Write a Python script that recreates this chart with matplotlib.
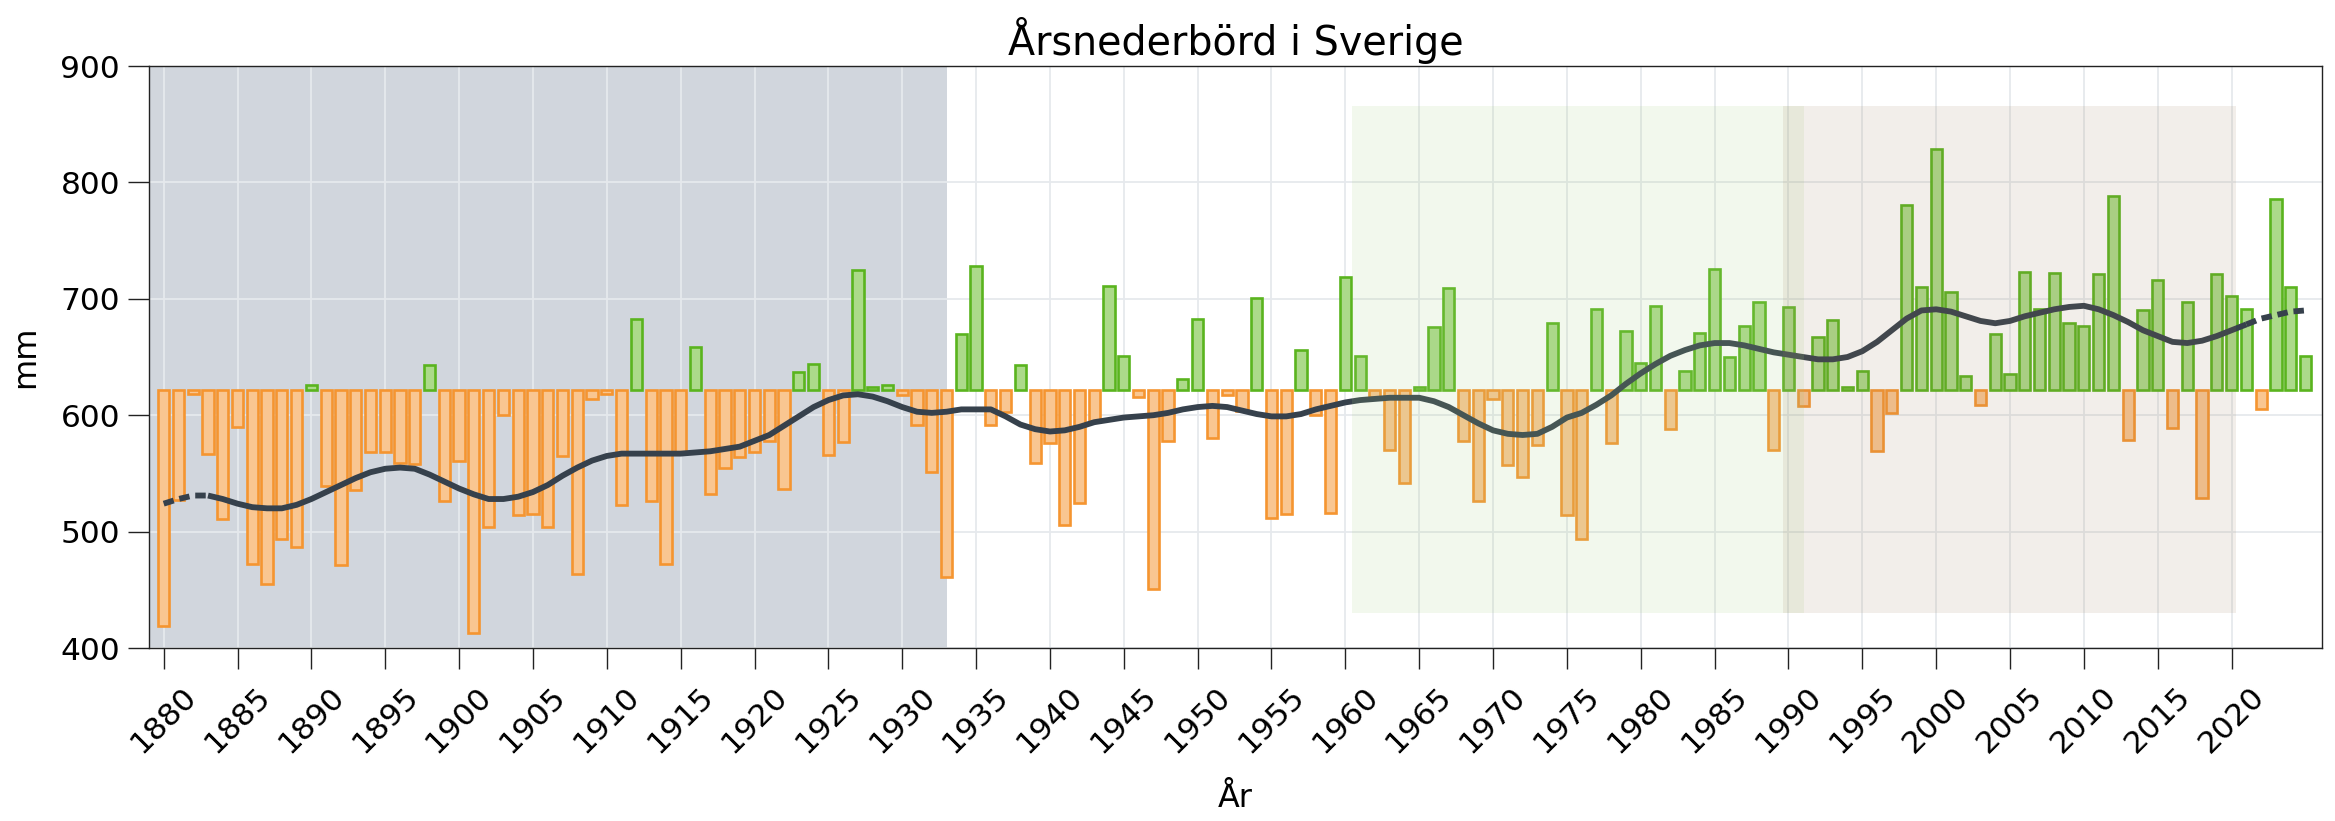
import numpy as np
import matplotlib
matplotlib.use("Agg")
import matplotlib.pyplot as plt

# annual precipitation, mm (1880-2025)
years = np.arange(1880, 2026)
precip = [
    419, 527, 618, 567, 511, 590, 472, 455, 494, 487,   # 1880-1889
    626, 539, 471, 536, 568, 568, 559, 558, 643, 526,   # 1890-1899
    561, 413, 504, 600, 514, 515, 504, 565, 464, 614,   # 1900-1909
    618, 523, 683, 526, 472, 568, 659, 532, 555, 564,   # 1910-1919
    568, 578, 537, 637, 644, 566, 577, 725, 624, 626,   # 1920-1929
    617, 592, 551, 461, 670, 728, 592, 603, 643, 559,   # 1930-1939
    576, 506, 525, 594, 711, 651, 616, 451, 578, 631,   # 1940-1949
    683, 580, 617, 604, 701, 512, 515, 656, 600, 516,   # 1950-1959
    719, 651, 616, 570, 542, 624, 676, 709, 578, 526,   # 1960-1969
    614, 557, 547, 574, 679, 514, 494, 691, 576, 672,   # 1970-1979
    645, 694, 588, 638, 671, 726, 650, 677, 697, 570,   # 1980-1989
    693, 608, 667, 682, 624, 638, 569, 602, 781, 710,   # 1990-1999
    829, 706, 634, 609, 670, 635, 723, 691, 722, 679,   # 2000-2009
    677, 721, 788, 579, 690, 716, 589, 697, 529, 721,   # 2010-2019
    702, 691, 605, 786, 710, 651,                       # 2020-2025
]

# smoothed curve at each year
smooth = [
    524, 528, 531, 531, 528, 524, 521, 520, 520, 523,
    528, 534, 540, 546, 551, 554, 555, 554, 549, 543,
    537, 532, 528, 528, 530, 534, 540, 548, 555, 561,
    565, 567, 567, 567, 567, 567, 568, 569, 571, 573,
    578, 583, 591, 599, 607, 613, 617, 618, 616, 612,
    607, 603, 602, 603, 605, 605, 605, 599, 592, 588,
    586, 587, 590, 594, 596, 598, 599, 600, 602, 605,
    607, 608, 607, 604, 601, 599, 599, 601, 605, 608,
    611, 613, 614, 615, 615, 615, 612, 607, 600, 593,
    587, 584, 583, 584, 590, 598, 602, 609, 617, 627,
    636, 644, 651, 656, 660, 662, 662, 660, 657, 654,
    652, 650, 648, 648, 650, 655, 663, 673, 683, 690,
    691, 689, 685, 681, 679, 681, 685, 688, 691, 693,
    694, 691, 686, 680, 673, 668, 663, 662, 664, 668,
    673, 678, 683, 686, 689, 690,
]

baseline = 621.7
xticks = np.arange(1880, 2021, 5)
yticks = [400, 500, 600, 700, 800, 900]

precip = np.array(precip, dtype=float)
smooth = np.array(smooth, dtype=float)
wet = precip >= baseline

fig = plt.figure(figsize=(23.35, 8.21), dpi=100)
ax = fig.add_axes([0.0639, 0.2107, 0.9304, 0.7089])

xmin, xmax = 1879.02, 2026.1

# gray background for the early period
ax.axvspan(xmin, 1933, color='#d1d6dd', zorder=0, lw=0)

ax.set_axisbelow(True)
ax.grid(True, color='#e6e9ed', lw=1.3)

ax.bar(years[~wet], precip[~wet] - baseline, bottom=baseline, width=0.76,
       color='#f9c691', edgecolor='#f59530', lw=1.9, zorder=2)
ax.bar(years[wet], precip[wet] - baseline, bottom=baseline, width=0.76,
       color='#acda8a', edgecolor='#5ab41e', lw=1.9, zorder=2)

# smoothed line: solid in the middle, dashed at both ends
curve = dict(color='#36414c', lw=4.2, zorder=3)
ax.plot(years[3:142], smooth[3:142], solid_capstyle='butt', **curve)
ax.plot(years[:4], smooth[:4], ls=(0, (1.8, 1.0)), **curve)
ax.plot(years[141:], smooth[141:], ls=(0, (1.8, 1.0)), **curve)

# normal periods, drawn over the bars
ax.axvspan(1960.45, 1991.08, ymin=0.06, ymax=0.932, color='#a8d087',
           alpha=0.15, lw=0, zorder=4)
ax.axvspan(1989.66, 2020.27, ymin=0.06, ymax=0.932, color='#9b7a58',
           alpha=0.12, lw=0, zorder=4)

ax.set_xlim(xmin, xmax)
ax.set_ylim(400, 900)
ax.set_xticks(xticks)
ax.set_yticks(yticks)

ax.tick_params(length=15, width=1, labelsize=22.5, color='#222222')
ax.tick_params(axis='x', labelrotation=45, pad=9)
ax.tick_params(axis='y', pad=6)
for s in ax.spines.values():
    s.set_color('#222222')
    s.set_linewidth(1)

ax.set_title('Årsnederbörd i Sverige', fontsize=28.5, pad=8)
ax.set_xlabel('År', fontsize=23, labelpad=18)
ax.set_ylabel('mm', fontsize=23, labelpad=14)

fig.savefig('out.png', dpi=100)
